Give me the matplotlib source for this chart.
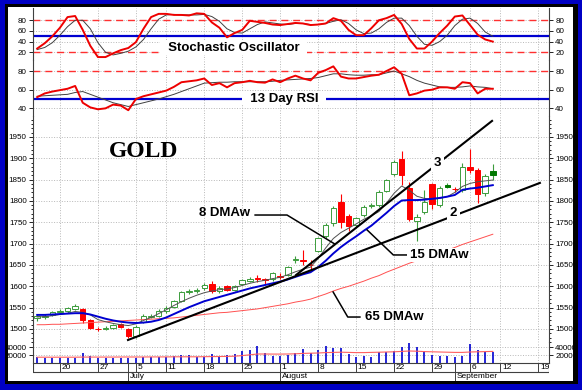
import matplotlib
matplotlib.use("Agg")
import matplotlib.pyplot as plt
import matplotlib.transforms as mtransforms
from matplotlib.patches import Rectangle
from matplotlib.ticker import MultipleLocator

plt.rcParams["font.family"] = ["Liberation Sans", "DejaVu Sans"]

W, H = 582, 390
PLOT_L, PLOT_R = 33, 549
XMIN, XMAX = -0.55, 67.4

# trading day index 0 = Jun 15 2011 ... 60 = Sep 9 2011
opens = [1526, 1529, 1533, 1540, 1541, 1547, 1547, 1521, 1501, 1500,
         1502, 1511, 1500, 1484, 1517, 1529, 1531, 1542, 1552, 1566,
         1586, 1588, 1595, 1606, 1589, 1600, 1592, 1606, 1613, 1619,
         1617, 1617, 1623, 1626, 1662, 1662, 1651, 1682, 1717, 1749,
         1797, 1765, 1744, 1767, 1787, 1790, 1824, 1862, 1898, 1830,
         1752, 1775, 1840, 1790, 1837, 1829, 1826, 1880, 1873, 1818, 1869]
highs = [1536, 1535, 1543, 1546, 1551, 1558, 1550, 1523, 1504, 1508,
         1512, 1514, 1503, 1509, 1534, 1535, 1546, 1555, 1569, 1590,
         1593, 1595, 1607, 1613, 1600, 1603, 1604, 1618, 1622, 1626,
         1620, 1634, 1632, 1648, 1672, 1685, 1662, 1715, 1748, 1788,
         1816, 1770, 1762, 1790, 1794, 1825, 1852, 1896, 1918, 1845,
         1770, 1826, 1843, 1836, 1842, 1833, 1888, 1921, 1878, 1862, 1887]
lows = [1519, 1523, 1530, 1536, 1538, 1544, 1515, 1499, 1496, 1497,
        1499, 1502, 1478, 1480, 1514, 1525, 1528, 1538, 1548, 1563,
        1582, 1584, 1592, 1585, 1585, 1588, 1589, 1603, 1609, 1610,
        1606, 1613, 1616, 1623, 1655, 1650, 1640, 1680, 1712, 1742,
        1737, 1730, 1740, 1763, 1783, 1786, 1820, 1858, 1838, 1752,
        1705, 1770, 1780, 1786, 1830, 1822, 1822, 1866, 1795, 1812, 1850]
closes = [1530, 1531, 1540, 1541, 1548, 1554, 1521, 1502, 1499, 1503,
          1509, 1505, 1483, 1505, 1530, 1531, 1542, 1550, 1565, 1587,
          1590, 1591, 1604, 1588, 1597, 1591, 1601, 1615, 1618, 1617,
          1614, 1630, 1622, 1646, 1664, 1660, 1649, 1713, 1744, 1784,
          1751, 1741, 1759, 1786, 1791, 1822, 1849, 1892, 1860, 1758,
          1763, 1798, 1792, 1830, 1833, 1827, 1879, 1873, 1816, 1858, 1860]

ma8 = [1528, 1529, 1531, 1534, 1537, 1541, 1539, 1533, 1522, 1517,
       1513, 1510, 1508, 1512, 1520, 1527, 1536, 1545, 1555, 1564,
       1572, 1579, 1585, 1589, 1592, 1594, 1597, 1602, 1607, 1611,
       1614, 1618, 1621, 1627, 1634, 1640, 1645, 1665, 1690, 1712,
       1726, 1736, 1746, 1757, 1765, 1775, 1795, 1818, 1835, 1825,
       1811, 1806, 1804, 1806, 1810, 1820, 1834, 1841, 1845, 1847, 1849]
ma15 = [1533, 1533, 1534, 1535, 1536, 1537, 1537, 1534, 1529, 1524,
        1520, 1517, 1515, 1514, 1515, 1517, 1521, 1527, 1535, 1543,
        1551, 1558, 1565, 1570, 1575, 1580, 1585, 1590, 1595, 1599,
        1603, 1607, 1611, 1616, 1622, 1628, 1633, 1645, 1660, 1677,
        1692, 1705, 1717, 1730, 1742, 1757, 1772, 1788, 1801, 1802,
        1802, 1803, 1805, 1807, 1810, 1814, 1826, 1829, 1831, 1834, 1837]
ma65 = [1510, 1510, 1511, 1511, 1512, 1513, 1514, 1515, 1516, 1517,
        1518, 1519, 1520, 1521, 1522, 1523, 1524, 1525, 1526, 1528,
        1530, 1532, 1534, 1536, 1538, 1539, 1541, 1543, 1545, 1547,
        1550, 1553, 1556, 1559, 1563, 1566, 1570, 1576, 1582, 1589,
        1595, 1600, 1606, 1612, 1619, 1625, 1633, 1640, 1647, 1654,
        1660, 1666, 1672, 1679, 1685, 1691, 1698, 1704, 1710, 1716, 1722]

stoch_k = [27, 37, 50, 66, 86, 88, 62, 32, 11, 11,
           18, 24, 28, 39, 64, 86, 92, 92, 90, 90,
           89, 93, 92, 76, 66, 48, 56, 62, 79, 77,
           75, 72, 71, 73, 75, 74, 71, 72, 74, 84,
           79, 62, 52, 52, 65, 80, 84, 90, 73, 45,
           27, 27, 40, 56, 70, 87, 89, 71, 53, 44, 40]
stoch_d = [25, 29, 38, 52, 68, 80, 80, 64, 38, 20,
           15, 18, 22, 30, 44, 64, 82, 90, 91, 90,
           90, 90, 91, 87, 78, 64, 57, 56, 64, 72,
           77, 75, 73, 72, 74, 74, 72, 72, 74, 78,
           81, 74, 62, 55, 56, 64, 76, 84, 84, 70,
           50, 35, 33, 40, 52, 70, 82, 84, 74, 58, 50]

rsi = [52, 56, 58, 59.5, 61, 64, 46, 41, 39, 40,
       44, 43, 38, 50, 53, 55, 57, 59, 63, 68,
       69, 70, 72, 65, 67, 62.5, 67, 68, 69.5, 68,
       67.5, 71, 68, 72, 75, 72, 70, 78, 81, 85,
       74, 72, 72, 73.5, 75, 76, 80, 84, 77, 54,
       56, 59, 60, 62.5, 62.5, 61, 68, 67, 56, 61, 61]
rsi_sig = [53, 53.5, 54, 54.5, 55, 57, 58, 55, 52, 49,
           46, 44, 42, 44, 46, 48, 50, 52.5, 55, 58,
           61, 64, 67, 67.5, 68, 68, 68.5, 68.5, 68.5, 68.5,
           68.5, 69, 70, 70.5, 71, 71.5, 72, 73, 75, 77,
           77, 76, 75.5, 75.5, 76, 76, 78, 80, 77, 74,
           70, 67, 65, 63, 62.5, 62.5, 63, 64, 63, 62.5, 61]

volume = [15800, 13300, 13300, 11700, 11700, 13300, 24200, 18300, 13300, 11700,
          13300, 13300, 13300, 13300, 15800, 15800, 15000, 15800, 18300, 20000,
          20000, 14200, 15800, 21700, 15800, 20000, 21700, 30000, 32500, 43300,
          24200, 17500, 18300, 20000, 24200, 35000, 24200, 32500, 43300, 36700,
          38300, 21700, 15800, 17500, 15800, 26700, 28300, 30000, 40800, 49200,
          40800, 30000, 20000, 18300, 17500, 15800, 18300, 46700, 32500, 26700, 28300]
vol_ma = [14500, 14500, 14500, 14500, 14500, 14500, 14800, 14800, 14800, 14800,
          14800, 15000, 15000, 15000, 15000, 15200, 15200, 15200, 15500, 15500,
          15500, 15500, 15800, 16000, 16200, 16500, 17000, 18500, 20500, 22500,
          22500, 22300, 22300, 22500, 23000, 24000, 24500, 25000, 26000, 26500,
          27000, 26500, 26000, 26000, 26500, 27000, 27500, 28000, 29000, 30000,
          29500, 28500, 28000, 27500, 27000, 26500, 26500, 27500, 28000, 28500, 29000]

day_ticks = [3, 8, 13, 17, 22, 27, 32, 37, 42, 47, 52, 57, 61, 66]
day_labels = ["20", "27", "5", "11", "18", "25", "1", "8", "15", "22", "29", "6", "12", "19"]
month_ticks = [12, 32, 55]
month_labels = ["July", "August", "September"]

# hand-drawn trendlines and label pointers (day index, price)
trend2 = ([11.96, 66.2], [1474.2, 1842.2])
trend3 = ([34.1, 59.9], [1626.6, 1987.5])
ptr8 = ([28.7, 32.9, 39.2], [1767, 1767, 1699])
ptr15 = ([43.45, 46.9, 48.6], [1732, 1673.4, 1673.4])
ptr65 = ([38.97, 40.9, 42.5], [1586.7, 1528, 1528])

BLUE = "#0000d0"
GREEN = "#3c9c3c"
GREEN_FILL = "#007800"
RED = "#ff0000"
GRID = "#b8b8b8"

fig = plt.figure(figsize=(W / 100, H / 100), dpi=100)
fig.patch.set_facecolor("#0000c4")


def px_rect(x0, y0, x1, y1, color, z):
    r = Rectangle((x0 / W, 1 - y1 / H), (x1 - x0) / W, (y1 - y0) / H,
                  transform=fig.transFigure, facecolor=color, edgecolor="none", zorder=z)
    fig.add_artist(r)


px_rect(5, 4, 578, 384, "black", -3)
px_rect(8, 7, 573, 381, "white", -2)


def panel(top, bottom):
    ax = fig.add_axes([PLOT_L / W, 1 - bottom / H, (PLOT_R - PLOT_L) / W, (bottom - top) / H])
    ax.set_facecolor("none")
    ax.set_xlim(XMIN, XMAX)
    for s in ("top", "bottom"):
        ax.spines[s].set_visible(False)
    for s in ("left", "right"):
        ax.spines[s].set_color("#404040")
        ax.spines[s].set_linewidth(0.8)
    ax.tick_params(axis="y", which="both", left=True, right=True, labelleft=True,
                   labelright=True, direction="out", width=0.6, labelsize=5.8, pad=1.5)
    ax.tick_params(axis="y", which="major", length=3)
    ax.tick_params(axis="y", which="minor", length=1.5)
    ax.tick_params(axis="x", bottom=False, labelbottom=False)
    ax.set_xticks(day_ticks)
    ax.grid(True, which="major", ls=":", color=GRID, lw=0.7)
    return ax


days = list(range(len(closes)))

# stochastic
ax_st = panel(8, 60)
ax_st.set_ylim(5.5, 103)
ax_st.set_yticks([20, 40, 60, 80])
for lvl in (80, 20):
    ax_st.axhline(lvl, color="#ff3030", lw=1.0, ls=(0, (5, 3.5)), zorder=2)
ax_st.axhline(50, color=BLUE, lw=1.6, zorder=2)
ax_st.plot(days, stoch_d, color="#404040", lw=0.7, zorder=3)
ax_st.plot(days, stoch_k, color="#ee0000", lw=1.4, zorder=4)
ax_st.text(25.9, 28, "  Stochastic Oscillator  ", fontsize=9.5, fontweight="bold",
           ha="center", va="center", zorder=5,
           bbox=dict(facecolor="white", edgecolor="none", pad=0.5))

# RSI
ax_rsi = panel(60, 116)
ax_rsi.set_ylim(31.8, 91.8)
ax_rsi.set_yticks([40, 60, 80])
ax_rsi.axhline(80, color="#ff3030", lw=1.0, ls=(0, (5, 3.5)), zorder=2)
ax_rsi.axhline(50, color=BLUE, lw=1.6, zorder=2)
ax_rsi.plot(days, rsi_sig, color="#404040", lw=0.7, zorder=3)
ax_rsi.plot(days, rsi, color="#ee0000", lw=1.4, zorder=4)
ax_rsi.text(32.5, 50.3, "  13 Day RSI  ", fontsize=9.5, fontweight="bold",
            ha="center", va="center", zorder=5,
            bbox=dict(facecolor="white", edgecolor="none", pad=0.5))

# price
ax = panel(116, 342)
ax.set_ylim(1469.5, 1999)
ax.set_yticks(range(1500, 1951, 50))
ax.yaxis.set_minor_locator(MultipleLocator(10))
for i in days:
    o, hi, lo, c = opens[i], highs[i], lows[i], closes[i]
    up = i == 0 or c >= closes[i - 1]
    col = GREEN if up else RED
    filled = c < o
    ax.vlines(i, lo, hi, color=col, lw=0.8, zorder=2)
    if filled:
        face = GREEN_FILL if up else RED
        edge = face
    else:
        face, edge = "white", col
    ax.add_patch(Rectangle((i - 0.36, min(o, c)), 0.72, max(abs(c - o), 1.2),
                           facecolor=face, edgecolor=edge, lw=0.7, zorder=3))
ax.plot(days, ma65, color="#ff5050", lw=0.7, zorder=4)
ax.plot(days, ma8, color="#505050", lw=0.7, zorder=4)
ax.plot(days, ma15, color=BLUE, lw=1.4, zorder=4)
ax.plot(*trend2, color="black", lw=1.5, zorder=5)
ax.plot(*trend3, color="black", lw=1.5, zorder=5)
for p in (ptr8, ptr15, ptr65):
    ax.plot(*p, color="black", lw=1.1, zorder=5)
ax.text(13.95, 1914.8, "GOLD", fontsize=17, fontweight="bold", ha="center", va="center",
        family=["Liberation Serif", "DejaVu Serif"], zorder=6)
lab = dict(fontsize=9.5, fontweight="bold", ha="center", va="center", zorder=6)
ax.text(24.7, 1771.9, "8 DMAw", **lab)
ax.text(52.9, 1673.4, "15 DMAw", bbox=dict(facecolor="white", edgecolor="none", pad=1), **lab)
ax.text(47.0, 1528, "65 DMAw", **lab)
ax.text(52.7, 1889, "3", bbox=dict(facecolor="white", edgecolor="none", pad=2), **lab)
ax.text(54.8, 1772, "2", bbox=dict(facecolor="white", edgecolor="none", pad=2), **lab)

# volume
ax_v = panel(342, 363)
ax_v.set_ylim(0, 52500)
ax_v.set_yticks([20000, 40000])
ax_v.spines["bottom"].set_visible(True)
ax_v.spines["bottom"].set_color("#404040")
ax_v.spines["bottom"].set_linewidth(0.8)
ax_v.vlines(days, 0, volume, color=BLUE, lw=1.2, zorder=3)
ax_v.plot(days, vol_ma, color="#ff6060", lw=0.8, zorder=4)

# date axis
ax_x = fig.add_axes([PLOT_L / W, 1 - 381 / H, (PLOT_R - PLOT_L) / W, 18 / H])
ax_x.set_xlim(XMIN, XMAX)
ax_x.set_ylim(0, 1)
ax_x.axis("off")
ax_x.axhline(0.5, color="#404040", lw=0.8)
ax_x.vlines([XMIN, XMAX], 0.5, 1, color="#404040", lw=0.8)
ax_x.vlines(day_ticks, 0.5, 1, color="#404040", lw=0.7)
ax_x.vlines(month_ticks, 0, 1, color="#404040", lw=0.7)
off = mtransforms.offset_copy(ax_x.transData, fig=fig, x=1.5, y=0, units="dots")
for t, s in zip(day_ticks, day_labels):
    ax_x.text(t, 0.76, s, fontsize=6, ha="left", va="center", transform=off)
for t, s in zip(month_ticks, month_labels):
    ax_x.text(t, 0.24, s, fontsize=6, ha="left", va="center", transform=off)

fig.savefig("out.png", dpi=100, facecolor=fig.get_facecolor())
